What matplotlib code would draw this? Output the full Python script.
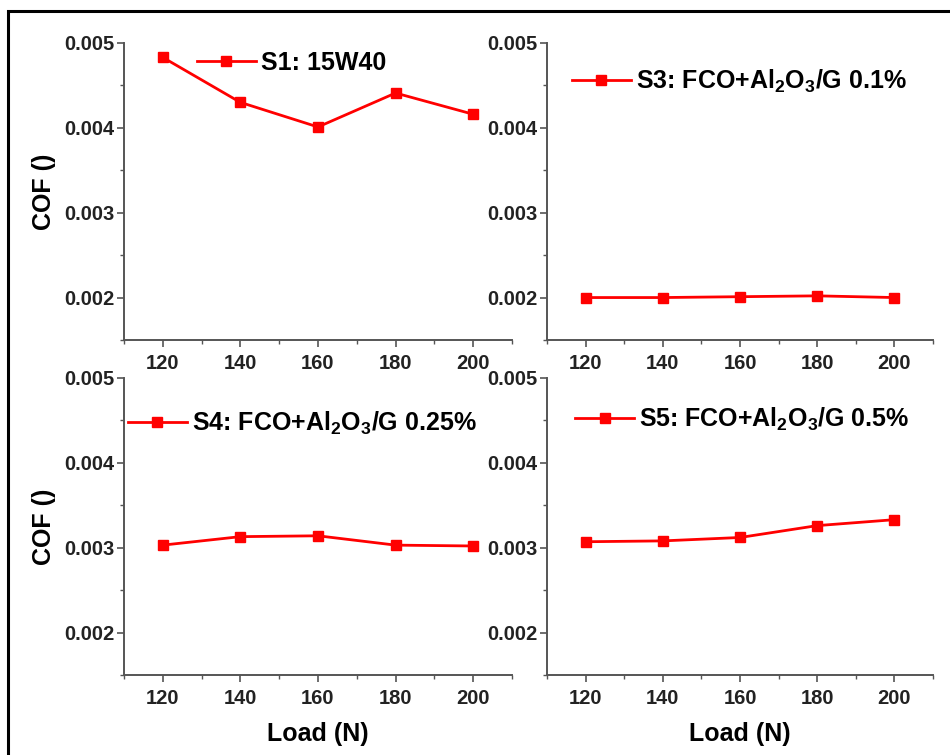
import matplotlib
matplotlib.use("Agg")
import matplotlib.pyplot as plt
from matplotlib.patches import Rectangle
from matplotlib.ticker import MultipleLocator

plt.rcParams['font.family'] = ['Liberation Sans', 'DejaVu Sans']
plt.rcParams['font.weight'] = 'bold'
plt.rcParams['mathtext.fontset'] = 'custom'
plt.rcParams['mathtext.rm'] = 'Liberation Sans:bold'
plt.rcParams['mathtext.default'] = 'rm'

# applied load (N) and coefficient of friction for each lubricant sample
load = [120, 140, 160, 180, 200]
cof_s1 = [0.00483, 0.00430, 0.00401, 0.00441, 0.00416]
cof_s3 = [0.00200, 0.00200, 0.00201, 0.00202, 0.00200]
cof_s4 = [0.00303, 0.00313, 0.00314, 0.00303, 0.00302]
cof_s5 = [0.00307, 0.00308, 0.00312, 0.00326, 0.00333]

labels = ["S1: 15W40",
          r"S3: FCO+Al$_2$O$_3$/G 0.1%",
          r"S4: FCO+Al$_2$O$_3$/G 0.25%",
          r"S5: FCO+Al$_2$O$_3$/G 0.5%"]
series = [cof_s1, cof_s3, cof_s4, cof_s5]

fig = plt.figure(figsize=(9.5, 7.55), dpi=100)

# panel boxes (left, bottom, width, height) and legend anchors
boxes = [(0.1305, 0.5497, 0.4084, 0.3934),
         (0.5758, 0.5497, 0.4063, 0.3934),
         (0.1305, 0.1060, 0.4084, 0.3934),
         (0.5758, 0.1060, 0.4063, 0.3934)]
anchors = [(0.188, 0.933), (0.065, 0.872), (0.010, 0.848), (0.073, 0.859)]

spine_c = '#555555'
for i, (box, ys, lab, anc) in enumerate(zip(boxes, series, labels, anchors)):
    ax = fig.add_axes(box)
    ax.plot(load, ys, color='#ff0000', lw=2.0, marker='s', ms=6.5, label=lab)
    ax.set_xlim(110, 210)
    ax.set_ylim(0.0015, 0.005)
    ax.xaxis.set_major_locator(MultipleLocator(20))
    ax.xaxis.set_minor_locator(MultipleLocator(10))
    ax.yaxis.set_major_locator(MultipleLocator(0.001))
    ax.yaxis.set_minor_locator(MultipleLocator(0.0005))
    ax.yaxis.set_major_formatter(plt.FormatStrFormatter('%.3f'))
    for s in ('top', 'right'):
        ax.spines[s].set_visible(False)
    for s in ('left', 'bottom'):
        ax.spines[s].set_color(spine_c)
        ax.spines[s].set_linewidth(1.4)
    ax.tick_params(which='major', direction='out', length=5, width=1.2,
                   color=spine_c, labelsize=14.5, labelcolor='#222222')
    ax.tick_params(which='minor', direction='out', length=3, width=1.0,
                   color=spine_c)
    ax.tick_params(axis='x', pad=5)
    ax.tick_params(axis='y', pad=2)
    if i % 2 == 0:
        ax.set_ylabel("COF ()", fontsize=18, fontweight='bold', labelpad=6)
    if i >= 2:
        ax.set_xlabel("Load (N)", fontsize=18, fontweight='bold', labelpad=10)
    ax.legend(loc='center left', bbox_to_anchor=anc, frameon=False,
              fontsize=18, handlelength=2.35, handletextpad=0.2,
              borderpad=0, borderaxespad=0)

# outer border
fig.patches.append(Rectangle((8 / 950, -0.1), 1.2, 1.1 - 11 / 755,
                             transform=fig.transFigure, fill=False,
                             edgecolor='black', lw=2.2))

fig.savefig("out.png", dpi=100)
